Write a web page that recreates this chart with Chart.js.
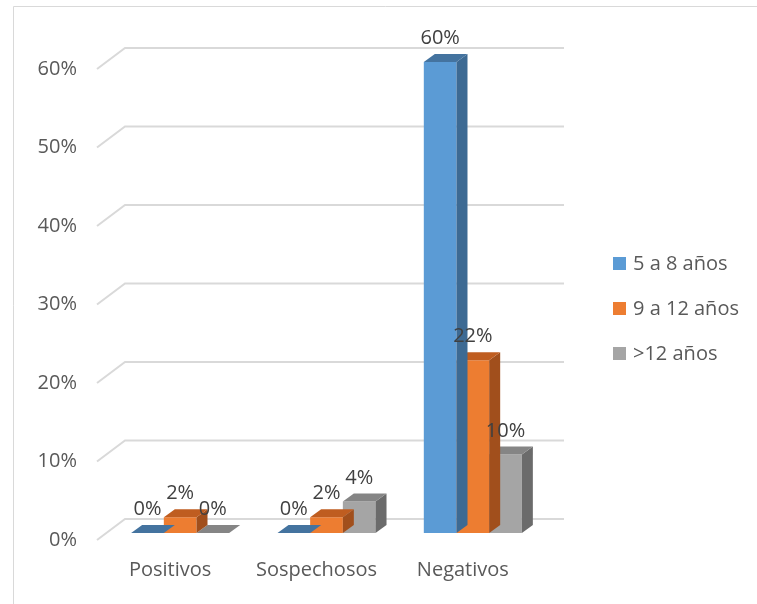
<!DOCTYPE html>
<html lang="es">
<head>
<meta charset="utf-8">
<title>Resultados por grupo de edad</title>
<script src="https://cdn.jsdelivr.net/npm/chart.js@4.4.1/dist/chart.umd.min.js"></script>
<style>
    html, body { margin: 0; padding: 0; background: #ffffff; }
    canvas { display: block; }
</style>
</head>
<body>
<canvas id="graficoEdades" width="757" height="604"></canvas>
<script>
// Categorías y porcentajes por grupo de edad
const categorias = ['Positivos', 'Sospechosos', 'Negativos'];
const grupo5a8 = [0, 0, 60];
const grupo9a12 = [2, 2, 22];
const grupoMas12 = [0, 4, 10];
const nombresSeries = ['5 a 8 años', '9 a 12 años', '>12 años'];
const marcasEje = [0, 10, 20, 30, 40, 50, 60];

const fuente = '"Open Sans", "DejaVu Sans", sans-serif';

// Desplazamientos del efecto 3D
const fondo = { dx: 28, dy: -21 };      // pared del fondo respecto al frente
const planoBarras = { dx: 10, dy: -7 }; // las barras van a media profundidad
const grosor = { dx: 11, dy: -8 };      // profundidad de cada barra

const barras3d = {
    id: 'barras3d',
    beforeDatasetsDraw(chart) {
        const { ctx, chartArea, scales: { y } } = chart;
        // Líneas de la cuadrícula: diagonal del piso + línea en la pared
        ctx.save();
        ctx.strokeStyle = '#d9d9d9';
        ctx.lineWidth = 2;
        marcasEje.forEach(v => {
            const py = y.getPixelForValue(v);
            ctx.beginPath();
            ctx.moveTo(chartArea.left, py);
            ctx.lineTo(chartArea.left + fondo.dx, py + fondo.dy);
            ctx.lineTo(chartArea.right + fondo.dx, py + fondo.dy);
            ctx.stroke();
        });
        ctx.restore();

        ctx.save();
        ctx.translate(planoBarras.dx, planoBarras.dy);
    },
    afterDatasetDraw(chart, args) {
        const ctx = chart.ctx;
        const ds = chart.data.datasets[args.index];
        args.meta.data.forEach(bar => {
            const { x, y, base, width } = bar.getProps(['x', 'y', 'base', 'width'], true);
            const l = x - width / 2;
            const r = x + width / 2;
            // cara lateral
            ctx.fillStyle = ds.colorLado;
            ctx.beginPath();
            ctx.moveTo(r, base);
            ctx.lineTo(r + grosor.dx, base + grosor.dy);
            ctx.lineTo(r + grosor.dx, y + grosor.dy);
            ctx.lineTo(r, y);
            ctx.closePath();
            ctx.fill();
            // cara superior
            ctx.fillStyle = ds.colorTope;
            ctx.beginPath();
            ctx.moveTo(l, y);
            ctx.lineTo(l + grosor.dx, y + grosor.dy);
            ctx.lineTo(r + grosor.dx, y + grosor.dy);
            ctx.lineTo(r, y);
            ctx.closePath();
            ctx.fill();
        });
    },
    afterDatasetsDraw(chart) {
        const ctx = chart.ctx;
        // Etiquetas de valor encima de cada barra
        ctx.font = '20px ' + fuente;
        ctx.fillStyle = '#404040';
        ctx.textAlign = 'center';
        ctx.textBaseline = 'alphabetic';
        chart.data.datasets.forEach((ds, i) => {
            chart.getDatasetMeta(i).data.forEach((bar, j) => {
                const { x, y } = bar.getProps(['x', 'y'], true);
                ctx.fillText(ds.data[j] + '%', x, y - 18);
            });
        });
        ctx.restore();
    },
    afterDraw(chart) {
        const ctx = chart.ctx;
        // Leyenda a la derecha
        ctx.save();
        ctx.font = '20px ' + fuente;
        ctx.textAlign = 'left';
        ctx.textBaseline = 'middle';
        chart.data.datasets.forEach((ds, i) => {
            const cy = 264 + i * 45;
            ctx.fillStyle = ds.backgroundColor;
            ctx.fillRect(613, cy - 7, 13, 13);
            ctx.fillStyle = '#595959';
            ctx.fillText(ds.label, 633, cy);
        });
        // Borde del área del gráfico
        ctx.strokeStyle = '#d9d9d9';
        ctx.lineWidth = 1;
        ctx.beginPath();
        ctx.moveTo(757, 6.5);
        ctx.lineTo(13.5, 6.5);
        ctx.lineTo(13.5, 604);
        ctx.stroke();
        ctx.restore();
    }
};

const ctx = document.getElementById('graficoEdades').getContext('2d');
new Chart(ctx, {
    type: 'bar',
    data: {
        labels: categorias,
        datasets: [{
            label: nombresSeries[0],
            data: grupo5a8,
            backgroundColor: '#5b9bd5',
            colorLado: '#3d6a93',
            colorTope: '#44739f'
        }, {
            label: nombresSeries[1],
            data: grupo9a12,
            backgroundColor: '#ed7d31',
            colorLado: '#a14f1c',
            colorTope: '#bf5d20'
        }, {
            label: nombresSeries[2],
            data: grupoMas12,
            backgroundColor: '#a5a5a5',
            colorLado: '#6b6b6b',
            colorTope: '#858585'
        }]
    },
    options: {
        responsive: false,
        animation: false,
        categoryPercentage: 0.67,
        barPercentage: 1,
        clip: false,
        layout: {
            padding: { top: 69, right: 221, bottom: 0, left: 0 }
        },
        plugins: {
            legend: { display: false },
            tooltip: { enabled: false }
        },
        scales: {
            x: {
                grid: { display: false },
                border: { display: false },
                ticks: {
                    color: '#595959',
                    font: { family: fuente, size: 20 },
                    padding: 10,
                    maxRotation: 0,
                    autoSkip: false
                },
                afterFit: scale => { scale.height = 64; }
            },
            y: {
                min: 0,
                max: 60,
                grid: { display: false },
                border: { display: false },
                ticks: {
                    stepSize: 10,
                    color: '#595959',
                    font: { family: fuente, size: 20 },
                    padding: 12,
                    callback: value => value + '%'
                },
                afterFit: scale => { scale.width = 97; }
            }
        }
    },
    plugins: [barras3d]
});
</script>
</body>
</html>
